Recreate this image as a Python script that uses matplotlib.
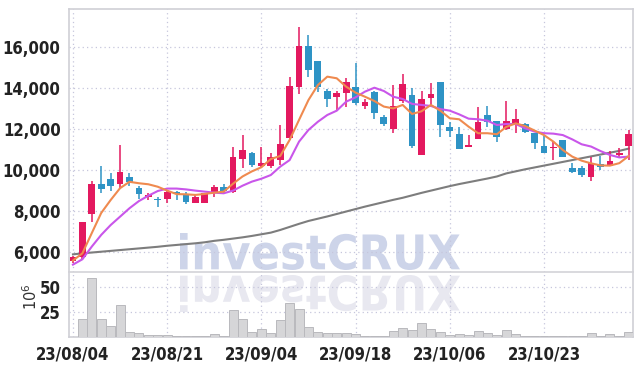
import numpy as np
import matplotlib
matplotlib.use("Agg")
import matplotlib.pyplot as plt
from matplotlib import font_manager
from matplotlib.textpath import TextPath
from matplotlib.patches import PathPatch
from matplotlib.font_manager import FontProperties
from matplotlib.transforms import Affine2D

# --- data -----------------------------------------------------------------
tick_labels = ["23/08/04", "23/08/21", "23/09/04", "23/09/18", "23/10/06", "23/10/23"]

opens = [5560, 5760, 7890, 9330, 9580, 9350, 9680, 9140, 8680, 8600,
         8620, 8960, 8850, 8420, 8420, 8910, 9170, 8960, 10570, 10860,
         10230, 10210, 10500, 11560, 14080, 16070, 15330, 13870, 13590, 13760,
         14050, 13160, 13820, 12590, 12000, 13380, 13680, 10750, 13550, 14310,
         12110, 11770, 11140, 11510, 12700, 12420, 12000, 12260, 12260, 11840,
         11190, 11070, 11480, 10100, 10100, 9690, 10310, 10210, 10750, 11190]
highs = [5800, 7480, 9500, 10210, 9850, 11220, 9850, 9240, 8910, 8680,
         9010, 9000, 8960, 8850, 8880, 9290, 9330, 11120, 11710, 10890,
         11160, 10860, 12200, 14570, 16980, 16600, 15330, 13980, 13850, 14490,
         15220, 13460, 13850, 12720, 14150, 14700, 14000, 13890, 14240, 14310,
         12370, 12130, 11710, 13070, 13140, 12420, 13400, 12980, 12330, 11840,
         11680, 11400, 11480, 10370, 10210, 10670, 10700, 10960, 11070, 11970]
lows = [5500, 5630, 7480, 8880, 9010, 9120, 9250, 8620, 8540, 8200,
        8390, 8550, 8340, 8420, 8420, 8720, 8850, 8880, 10110, 10180,
        10180, 10110, 10240, 11500, 13720, 14570, 13840, 13110, 12910, 13110,
        13190, 12980, 12500, 12160, 11840, 13270, 11070, 10750, 13110, 11610,
        11610, 11060, 11140, 11510, 12130, 11400, 11970, 11800, 11800, 11020,
        10830, 10500, 10630, 9890, 9660, 9500, 10020, 10210, 10630, 10500]
closes = [5770, 7480, 9330, 9110, 9250, 9920, 9430, 8860, 8800, 8550,
          8930, 8850, 8470, 8720, 8880, 9190, 8990, 10650, 10990, 10240,
          10360, 10630, 11290, 14110, 16070, 14890, 14080, 13480, 13760, 14310,
          13270, 13330, 12780, 12260, 13140, 14210, 11190, 13460, 13720, 12210,
          11940, 11060, 11220, 12360, 12370, 11640, 12420, 12500, 11890, 11350,
          10830, 11150, 10630, 9930, 9770, 10340, 10180, 10450, 10860, 11770]

# volume in millions
volumes = [0.0, 17.8, 59.2, 18.4, 11.2, 31.6, 4.9, 3.6, 2.3, 2.3,
           2.3, 1.3, 1.3, 1.3, 1.3, 2.6, 1.3, 26.6, 18.4, 4.6,
           7.6, 3.9, 17.4, 34.2, 28.3, 10.5, 4.6, 3.6, 3.6, 3.6,
           3.3, 1.3, 1.3, 1.3, 5.9, 9.5, 6.9, 14.5, 7.6, 4.9,
           1.6, 2.6, 1.6, 5.9, 3.9, 1.6, 6.6, 2.6, 1.3, 1.3,
           1.3, 1.3, 1.3, 1.3, 1.3, 3.9, 1.3, 2.6, 1.3, 4.6]

# moving averages as drawn (short / mid / long)
ma_short = [5600, 5950, 6940, 7920, 8550, 9130, 9440, 9370, 9320, 9200,
            9010, 8840, 8830, 8800, 8850, 8910, 8960, 9350, 9700, 9950,
            10150, 10550, 10700, 11480, 12460, 13430, 14160, 14570, 14490, 14080,
            13790, 13590, 13380, 13110, 13020, 13190, 12750, 12880, 13190, 12910,
            12540, 12490, 12130, 11810, 11810, 11760, 12120, 12290, 12160, 11940,
            11720, 11400, 10990, 10670, 10470, 10340, 10240, 10230, 10350, 10700]
ma_mid = [5400, 5660, 6280, 6850, 7330, 7740, 8150, 8500, 8760, 8990,
          9110, 9110, 9070, 9010, 8960, 8910, 8880, 9010, 9250, 9450,
          9590, 9770, 10180, 10500, 11400, 11970, 12370, 12700, 12910, 13350,
          13560, 13840, 14030, 13870, 13590, 13480, 13240, 13190, 13140, 12990,
          12910, 12730, 12520, 12490, 12420, 12210, 12260, 12260, 12050, 11890,
          11810, 11790, 11720, 11510, 11270, 11160, 10940, 10750, 10630, 10670]
ma_long = [5900, 5950, 5990, 6030, 6070, 6110, 6150, 6190, 6230, 6270,
           6320, 6360, 6400, 6440, 6490, 6560, 6610, 6670, 6730, 6800,
           6880, 6960, 7090, 7240, 7390, 7530, 7640, 7750, 7870, 7990,
           8110, 8230, 8340, 8450, 8560, 8660, 8780, 8900, 9010, 9120,
           9230, 9330, 9420, 9510, 9600, 9700, 9850, 9950, 10050, 10140,
           10230, 10320, 10410, 10500, 10590, 10680, 10770, 10860, 10950, 11060]

UP = "#e3195f"
DOWN = "#2e93c5"
GRID = "#c6c6dc"
SPINE = "#cfcfd6"

# prefer a condensed face for the tick labels if one is installed
tick_font = FontProperties(family="DejaVu Sans", weight="bold", size=11.5)
for f in font_manager.fontManager.ttflist:
    if f.name == "DejaVu Sans" and f.stretch == "condensed" and f.weight in (600, 700, "bold"):
        tick_font = FontProperties(family="DejaVu Sans", weight="bold", stretch="condensed", size=12)
        break

W, H = 642, 366
fig = plt.figure(figsize=(W / 100, H / 100), dpi=100)
fig.patch.set_facecolor("white")

left, right = 69, 633
top, mid, bottom = 9, 272, 337
ax = fig.add_axes([left / W, 1 - mid / H, (right - left) / W, (mid - top) / H])
axv = fig.add_axes([left / W, 1 - bottom / H, (right - left) / W, (bottom - mid) / H], sharex=ax)
for a in (ax, axv):
    a.set_facecolor("none")

# --- watermark "investCRUX" with its reflection -----------------------------
tp = TextPath((0, 0), "investCRUX", size=100, prop=FontProperties(family="DejaVu Sans", weight="bold"))
ext = tp.get_extents()
wx0, wx1 = 180, 460
wtop, wbase = 233, 270
sx = (wx1 - wx0) / ext.width
sy = (wbase - wtop) / ext.height
main_tr = Affine2D().translate(-ext.x0, -ext.y0).scale(sx, sy).translate(wx0, H - wbase)
refl_tr = Affine2D().translate(-ext.x0, -ext.y0).scale(sx, -sy).translate(wx0, H - 275)
fig.patches.append(PathPatch(main_tr.transform_path(tp), facecolor="#cdd4e9", edgecolor="none",
                             transform=None, zorder=-1, figure=fig))
fig.patches.append(PathPatch(refl_tr.transform_path(tp), facecolor="#e8e8f0", edgecolor="none",
                             transform=None, zorder=-1, figure=fig))

# --- candles ----------------------------------------------------------------
x = np.arange(len(opens))
o = np.array(opens)
c = np.array(closes)
colors = [UP if cc >= oo else DOWN for oo, cc in zip(o, c)]
body_low = np.minimum(o, c)
body_h = np.maximum(np.abs(c - o), 60)
ax.vlines(x, lows, highs, colors=colors, linewidth=1.1, zorder=3)
ax.bar(x, body_h, bottom=body_low, width=0.72, color=colors, edgecolor="none", zorder=4)

ax.plot(x, ma_long, color="#7d7d7d", linewidth=1.5, zorder=2)
ax.plot(x, ma_mid, color="#c956ea", linewidth=1.5, zorder=5)
ax.plot(x, ma_short, color="#ef8a4f", linewidth=1.5, zorder=5)

# --- volume -----------------------------------------------------------------
axv.bar(x, volumes, width=0.95, color="#d6d6d8", edgecolor="#b9b9bd", linewidth=0.7, zorder=3)

# --- axes styling -----------------------------------------------------------
ax.set_xlim(-0.42, 59.45)
ax.set_ylim(5040, 17870)
axv.set_ylim(0, 65)

ax.set_yticks([6000, 8000, 10000, 12000, 14000, 16000])
ax.set_yticklabels([f"{v:,}" for v in [6000, 8000, 10000, 12000, 14000, 16000]])
axv.set_yticks([25, 50])
axv.set_xticks(range(0, 60, 10))
axv.set_xticklabels(tick_labels)
ax.tick_params(axis="x", labelbottom=False)

for a in (ax, axv):
    a.grid(True, linestyle=(0, (1, 2.5)), color=GRID, linewidth=0.9, zorder=0)
    a.set_axisbelow(True)
    a.tick_params(length=0, colors="#222222", pad=6)
    for lab in a.get_xticklabels() + a.get_yticklabels():
        lab.set_fontproperties(tick_font)
    for s in a.spines.values():
        s.set_color(SPINE)
        s.set_linewidth(1.2)
ax.spines["bottom"].set_visible(False)
axv.spines["top"].set_color("#d3d3d8")

fig.text(31 / W, 1 - 297 / H, r"$10^6$", rotation=90, ha="center", va="center",
         fontsize=10.5, color="#333333")

fig.savefig("out.png", dpi=100)
